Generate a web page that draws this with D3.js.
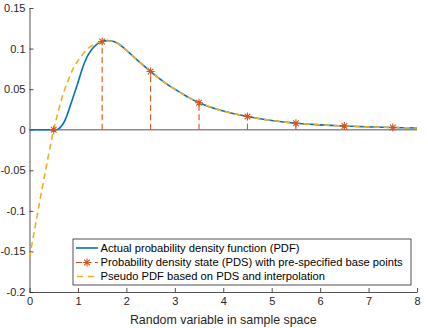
<!DOCTYPE html>
<html>
<head>
<meta charset="utf-8">
<script src="https://cdn.jsdelivr.net/npm/d3@7"></script>
<style>
  html, body { margin: 0; padding: 0; background: #fff; }
  svg { display: block; font-family: "Liberation Sans", Arial, Helvetica, sans-serif; }
</style>
</head>
<body>
<div id="chart"></div>
<script>
// ==== Dữ liệu ====
const xTicks = [0, 1, 2, 3, 4, 5, 6, 7, 8];
const yTicks = [0.15, 0.1, 0.05, 0, -0.05, -0.1, -0.15, -0.2];
const yTickLabels = ["0.15", "0.1", "0.05", "0", "-0.05", "-0.1", "-0.15", "-0.2"];

// Actual PDF (đường xanh)
const pdfX = [0, 0.5, 0.55, 0.6, 0.65, 0.7, 0.75, 0.8, 0.9, 1.0, 1.1, 1.2, 1.3, 1.4, 1.5, 1.6, 1.7, 1.8, 1.9,
  2.0, 2.25, 2.5, 2.75, 3.0, 3.25, 3.5, 4.0, 4.5, 5.0, 5.5, 6.0, 6.5, 7.0, 7.5, 8.0];
const pdfY = [0, 0, 0, 0.001, 0.004, 0.008, 0.014, 0.022, 0.040, 0.058, 0.077, 0.091, 0.100, 0.1058, 0.1088, 0.1098, 0.1093, 0.1072, 0.1030,
  0.098, 0.0845, 0.0718, 0.060, 0.050, 0.041, 0.0333, 0.023, 0.0162, 0.0114, 0.0080, 0.006, 0.0045, 0.0035, 0.0027, 0.0021];

// PDS tại các điểm cơ sở
const pdsX = [0.5, 1.5, 2.5, 3.5, 4.5, 5.5, 6.5, 7.5];
const pdsY = [0, 0.1087, 0.0718, 0.0333, 0.0162, 0.0080, 0.0045, 0.0027];

// Pseudo PDF (nét đứt vàng)
const pseudoX = [0, 0.1, 0.2, 0.3, 0.4, 0.5, 0.6, 0.7, 0.8, 0.9, 1.0, 1.1, 1.2, 1.3, 1.4, 1.5, 1.75,
  2.0, 2.25, 2.5, 2.75, 3.0, 3.25, 3.5, 4.0, 4.5, 5.0, 5.5, 6.0, 6.5, 7.0, 7.5, 8.0];
const pseudoY = [-0.158, -0.125, -0.092, -0.060, -0.029, 0, 0.024, 0.045, 0.061, 0.075, 0.085, 0.093, 0.0995, 0.104, 0.107, 0.1087, 0.1085,
  0.098, 0.0845, 0.0718, 0.060, 0.050, 0.041, 0.0333, 0.023, 0.0162, 0.0114, 0.0080, 0.006, 0.0045, 0.0035, 0.0027, 0.0021];

const legendLabels = [
  "Actual probability density function (PDF)",
  "Probability density state (PDS) with pre-specified base points",
  "Pseudo PDF based on PDS and interpolation"
];
const xLabel = "Random variable in sample space";

// ==== Vẽ ====
const W = 428, H = 328;
const margin = { top: 8, right: 11, bottom: 36, left: 29.5 };
const width = W - margin.left - margin.right;
const height = H - margin.top - margin.bottom;

const C_BLUE = "#0072BD", C_ORANGE = "#D95319", C_YELLOW = "#EDB120", C_AXIS = "#262626";

const svg = d3.select("#chart").append("svg")
  .attr("width", W).attr("height", H);
const g = svg.append("g").attr("transform", `translate(${margin.left},${margin.top})`);

const x = d3.scaleLinear().domain([0, 8]).range([0, width]);
const y = d3.scaleLinear().domain([-0.2, 0.15]).range([height, 0]);

// Trục (tick hướng vào trong kiểu MATLAB)
const gx = g.append("g")
  .attr("transform", `translate(0,${height})`)
  .call(d3.axisBottom(x).tickValues(xTicks).tickFormat(d3.format("d"))
    .tickSizeInner(-4).tickSizeOuter(0).tickPadding(5));
const gy = g.append("g")
  .call(d3.axisLeft(y).tickValues(yTicks).tickFormat((d, i) => yTickLabels[i])
    .tickSizeInner(-4).tickSizeOuter(0).tickPadding(4));
[gx, gy].forEach(a => {
  a.select(".domain").attr("stroke", C_AXIS).attr("stroke-width", 0.8);
  a.selectAll(".tick line").attr("stroke", C_AXIS).attr("stroke-width", 0.8);
  a.selectAll(".tick text").attr("fill", C_AXIS).style("font-size", "11px");
});

// Đường y = 0
g.append("line")
  .attr("x1", x(0)).attr("x2", x(8))
  .attr("y1", y(0)).attr("y2", y(0))
  .attr("stroke", "#8c8c8c").attr("stroke-width", 1.5);

// PDF thật
const pdfData = pdfX.map((v, i) => [v, pdfY[i]]);
const line = d3.line().x(d => x(d[0])).y(d => y(d[1])).curve(d3.curveCatmullRom.alpha(0.5));
g.append("path").datum(pdfData)
  .attr("fill", "none").attr("stroke", C_BLUE).attr("stroke-width", 1.6)
  .attr("d", line);

// Stem PDS
const pdsData = pdsX.map((v, i) => [v, pdsY[i]]);
g.selectAll(".stem").data(pdsData).enter().append("line")
  .attr("class", "stem")
  .attr("x1", d => x(d[0])).attr("x2", d => x(d[0]))
  .attr("y1", y(0)).attr("y2", d => y(d[1]))
  .attr("stroke", C_ORANGE).attr("stroke-width", 1.1)
  .attr("stroke-dasharray", "6,3.5");

// Pseudo PDF nét đứt
const pseudoData = pseudoX.map((v, i) => [v, pseudoY[i]]);
g.append("path").datum(pseudoData)
  .attr("fill", "none").attr("stroke", C_YELLOW).attr("stroke-width", 1.6)
  .attr("stroke-dasharray", "6,4")
  .attr("d", line);

// Marker * kiểu MATLAB (4 nét)
const starType = {
  draw(ctx, size) {
    const r = Math.sqrt(size) / 2, k = r * Math.SQRT1_2;
    ctx.moveTo(0, -r); ctx.lineTo(0, r);
    ctx.moveTo(-r, 0); ctx.lineTo(r, 0);
    ctx.moveTo(-k, -k); ctx.lineTo(k, k);
    ctx.moveTo(-k, k); ctx.lineTo(k, -k);
  }
};
const star = d3.symbol().type(starType).size(64);
g.selectAll(".pds").data(pdsData).enter().append("path")
  .attr("class", "pds")
  .attr("transform", d => `translate(${x(d[0])},${y(d[1])})`)
  .attr("d", star)
  .attr("fill", "none").attr("stroke", C_ORANGE).attr("stroke-width", 1.1);

// Nhãn trục x
g.append("text")
  .attr("x", width / 2).attr("y", height + 32)
  .attr("text-anchor", "middle")
  .attr("fill", C_AXIS)
  .style("font-size", "12.4px")
  .text(xLabel);

// ==== Legend ====
const lg = svg.append("g").attr("transform", "translate(73,239)");
lg.append("rect")
  .attr("width", 338).attr("height", 46)
  .attr("fill", "#fff").attr("stroke", C_AXIS).attr("stroke-width", 0.8);
const rows = [9, 23.5, 37.5];
legendLabels.forEach((t, i) => {
  const ry = rows[i];
  const ln = lg.append("line").attr("x1", 3).attr("x2", 25).attr("y1", ry).attr("y2", ry)
    .attr("stroke-width", i === 1 ? 1.1 : 1.6);
  if (i === 0) ln.attr("stroke", C_BLUE);
  if (i === 1) {
    ln.attr("stroke", C_ORANGE).attr("stroke-dasharray", "6,3.5");
    lg.append("path").attr("transform", `translate(14,${ry})`).attr("d", star)
      .attr("fill", "none").attr("stroke", C_ORANGE).attr("stroke-width", 1.1);
  }
  if (i === 2) ln.attr("stroke", C_YELLOW).attr("stroke-dasharray", "6,5").attr("x1", 4);
  lg.append("text")
    .attr("x", 27.5).attr("y", ry).attr("dy", "0.35em")
    .attr("fill", "#000")
    .style("font-size", "11.2px")
    .text(t);
});
</script>
</body>
</html>
